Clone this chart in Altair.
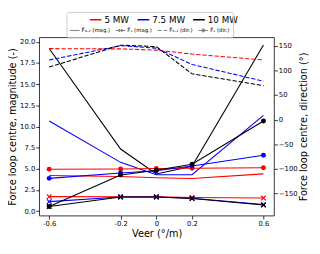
import altair as alt
import pandas as pd

# ---- data ----
veer = [-0.6, -0.2, 0.0, 0.2, 0.6]
turbines = ["5 MW", "7.5 MW", "10 MW"]
turbine_colors = ["#ff0000", "#0000ff", "#000000"]

# magnitude of F_0.2 (solid line, left axis)
mag02_5mw = [4.22, 4.10, 3.95, 3.85, 4.40]
mag02_75mw = [10.64, 5.76, 4.30, 4.30, 11.30]
mag02_10mw = [19.20, 7.34, 4.40, 5.30, 19.60]

# magnitude of F_s (line with x markers, left axis)
mags_5mw = [1.72, 1.70, 1.70, 1.62, 1.55]
mags_75mw = [1.13, 1.68, 1.68, 1.52, 0.78]
mags_10mw = [0.55, 1.68, 1.68, 1.50, 0.73]

# direction of F_0.2 (dashed line, right axis, degrees)
dir02_5mw = [144, 143.5, 141, 133, 121]
dir02_75mw = [121, 150, 145, 112, 78]
dir02_10mw = [106.6, 151, 148, 93, 69]

# direction of F_s (line with dots, right axis, degrees)
dirs_5mw = [-100.5, -100, -99, -98.5, -97.5]
dirs_75mw = [-119, -108, -103.5, -94, -72]
dirs_10mw = [-176, -112, -102.5, -90.5, -2.6]

style_labels = ["F\u0304\u2080.\u2082 (mag.)", "F\u0304\u209b (mag.)",
                "F\u0304\u2080.\u2082 (dir.)", "F\u0304\u209b (dir.)"]

left_ticks = [0, 2.5, 5, 7.5, 10, 12.5, 15, 17.5, 20]
right_ticks = [-150, -100, -50, 0, 50, 100, 150]

# ---- build a long table ----
series = {
    ("mag02", "5 MW"): mag02_5mw, ("mag02", "7.5 MW"): mag02_75mw, ("mag02", "10 MW"): mag02_10mw,
    ("mags", "5 MW"): mags_5mw, ("mags", "7.5 MW"): mags_75mw, ("mags", "10 MW"): mags_10mw,
    ("dir02", "5 MW"): dir02_5mw, ("dir02", "7.5 MW"): dir02_75mw, ("dir02", "10 MW"): dir02_10mw,
    ("dirs", "5 MW"): dirs_5mw, ("dirs", "7.5 MW"): dirs_75mw, ("dirs", "10 MW"): dirs_10mw,
}
rows = []
for (kind, turb), vals in series.items():
    for xv, yv in zip(veer, vals):
        rows.append({"veer": xv, "turbine": turb, "kind": kind, "value": yv})
df = pd.DataFrame(rows)

dummy = pd.DataFrame({"style": style_labels, "veer": [0.0] * 4, "value": [None] * 4})

FONT = "DejaVu Sans"

x_enc = alt.X("veer:Q",
              scale=alt.Scale(domain=[-0.656, 0.659], nice=False, zero=False),
              axis=alt.Axis(values=veer, labelExpr="toString(datum.value)",
                            title="Veer (°/m)", grid=False))

yl_scale = alt.Scale(domain=[-0.52, 20.52], nice=False, zero=False)
yl_axis = alt.Axis(orient="left", values=left_ticks, format=".1f", grid=False,
                   title="Force loop centre, magnitude (-)")
yr_scale = alt.Scale(domain=[-194.5, 167], nice=False, zero=False)
yr_axis = alt.Axis(orient="right", values=right_ticks, format="d", grid=False,
                   title="Force loop centre, direction (°)",
                   titleAngle=270, titleBaseline="top")

color_scale = alt.Scale(domain=turbines, range=turbine_colors)
color_legend = alt.Legend(orient="none", legendX=51, legendY=-25, direction="horizontal",
                          title=None, symbolType="stroke", symbolSize=144,
                          symbolStrokeWidth=1.5, labelFontSize=9, labelFont=FONT,
                          labelColor="black", labelOffset=2, columnPadding=5, padding=0)
color_line = alt.Color("turbine:N", scale=color_scale, legend=color_legend)
color_pt = alt.Color("turbine:N", scale=color_scale, legend=None)

base = alt.Chart(df)
LW = 1.1

yl = alt.Y("value:Q", scale=yl_scale, axis=yl_axis)
yr = alt.Y("value:Q", scale=yr_scale, axis=yr_axis)

mag02_line = base.transform_filter("datum.kind == 'mag02'").mark_line(strokeWidth=LW).encode(
    x=x_enc, y=yl, color=color_line)
mags_line = base.transform_filter("datum.kind == 'mags'").mark_line(strokeWidth=LW).encode(
    x=x_enc, y=yl, color=color_line)
mags_pts = base.transform_filter("datum.kind == 'mags'").mark_point(
    shape="M-1,-1L1,1M-1,1L1,-1", filled=False, size=22, strokeWidth=1.2, opacity=1).encode(
    x=x_enc, y=yl, color=color_pt)

# legend symbols (unit square paths): line, line + x, dashes, line + dot
dot = "".join(
    f"M{r},0A{r},{r} 0 1,1 -{r},0A{r},{r} 0 1,1 {r},0"
    for r in (0.32, 0.22, 0.12, 0.04)
)
style_paths = [
    "M-1,0L1,0",
    "M-1,0L1,0M-0.3,-0.3L0.3,0.3M-0.3,0.3L0.3,-0.3M-0.3,-0.3L-0.3,0.3M0.3,-0.3L0.3,0.3",
    "M-1,0L-0.2,0M0.2,0L1,0",
    "M-1,0L1,0" + dot,
]
style_legend = alt.Legend(orient="none", legendX=28, legendY=-26, direction="horizontal",
                          title=" ", titleFontSize=9, titlePadding=1,
                          labelFontSize=5.5, labelFont=FONT, labelColor="black",
                          labelOffset=1.5, columnPadding=3, symbolSize=100,
                          symbolStrokeWidth=1, symbolStrokeColor="gray",
                          strokeColor="#cccccc", cornerRadius=2, padding=3)
dummy_layer = alt.Chart(dummy).mark_point(filled=False, color="gray",
                                          strokeWidth=1, opacity=1).encode(
    x=x_enc, y=yl,
    shape=alt.Shape("style:N", scale=alt.Scale(domain=style_labels, range=style_paths),
                    legend=style_legend))

dir02_line = base.transform_filter("datum.kind == 'dir02'").mark_line(
    strokeWidth=LW, strokeDash=[4.4, 1.9]).encode(x=x_enc, y=yr, color=color_line)
dirs_line = base.transform_filter("datum.kind == 'dirs'").mark_line(strokeWidth=LW).encode(
    x=x_enc, y=yr, color=color_line)
dirs_pts = base.transform_filter("datum.kind == 'dirs'").mark_point(
    shape="circle", filled=True, size=26, opacity=1).encode(x=x_enc, y=yr, color=color_pt)

left = alt.layer(mag02_line, mags_line, mags_pts, dummy_layer)
right = alt.layer(dir02_line, dirs_line, dirs_pts)

chart = alt.layer(left, right).resolve_scale(y="independent").properties(
    width=241, height=183,
    padding={"left": 32, "top": 27, "right": 39, "bottom": 23},
    autosize=alt.AutoSizeParams(type="none"),
).configure_axis(
    labelFont=FONT, titleFont=FONT, labelFontSize=7, titleFontSize=10,
    titleFontWeight="normal", labelColor="black", titleColor="black",
    tickColor="black", tickSize=3.5, tickWidth=0.8, domain=False,
    labelPadding=1, titlePadding=2,
).configure_view(stroke="black", strokeWidth=0.8)

chart.save("out.html", embed_options={"renderer": "svg", "actions": False})
